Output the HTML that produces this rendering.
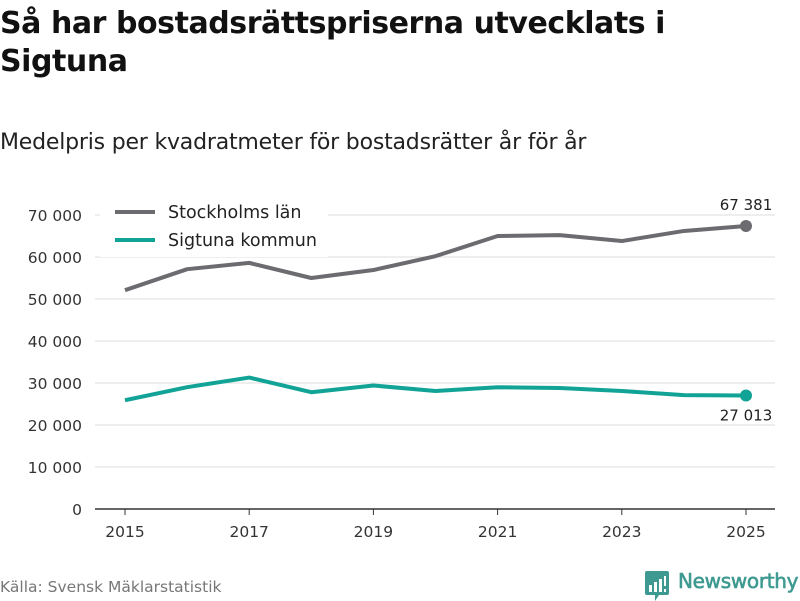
<!DOCTYPE html>
<html><head><meta charset="utf-8"><style>
body{margin:0;width:800px;height:600px;background:#fff;font-family:"DejaVu Sans","Liberation Sans",sans-serif;overflow:hidden;position:relative}
.t{position:absolute;white-space:nowrap}
</style></head><body>
<div class="t" style="left:0;top:5px;font-size:30px;font-weight:bold;line-height:38px;color:#111;letter-spacing:-0.45px">Så har bostadsrättspriserna utvecklats i<br>Sigtuna</div>
<div class="t" style="left:0;top:130px;font-size:22px;color:#222;letter-spacing:-0.2px">Medelpris per kvadratmeter för bostadsrätter år för år</div>
<svg id="c" width="800" height="600" style="position:absolute;left:0;top:0" font-family="DejaVu Sans, Liberation Sans, sans-serif"></svg>
<div class="t" style="left:0;top:578px;font-size:15.5px;color:#777">Källa: Svensk Mäklarstatistik</div>
<div style="position:absolute;left:645px;top:569px">
<svg width="24" height="30" style="position:absolute;left:0;top:2px"><path d="M0 2 Q0 0 2 0 H22 Q24 0 24 2 V22 Q24 24 22 24 H14 L10 30 L10 24 H2 Q0 24 0 22Z" fill="#3e9a91"/><rect x="4" y="14" width="3" height="7" fill="#fff"/><rect x="9" y="11" width="3" height="10" fill="#fff"/><rect x="14" y="8" width="3" height="13" fill="#fff"/><rect x="19" y="5" width="2" height="10" fill="#fff"/><rect x="19" y="18" width="2" height="3" fill="#fff"/></svg>
<div class="t" style="left:33px;top:0;font-size:20px;color:#3e9a91;-webkit-text-stroke:0.6px #3e9a91;letter-spacing:-0.3px">Newsworthy</div></div>
<script>
const years=[2015,2016,2017,2018,2019,2020,2021,2022,2023,2024,2025];
const sthlm=[52100,57100,58600,55000,56900,60200,65000,65200,63800,66200,67381];
const sigtuna=[25900,29000,31300,27800,29400,28100,29000,28800,28100,27100,27013];
const yTicks=[0,10000,20000,30000,40000,50000,60000,70000];
const xTicks=[2015,2017,2019,2021,2023,2025];
const svg=document.getElementById('c');const NS='http://www.w3.org/2000/svg';
const x=v=>125+(v-2015)*62.1;const y=v=>509-v*0.0042;
const fmt=v=>String(v).replace(/\B(?=(\d{3})+(?!\d))/g,' ');
function el(t,a,p){const e=document.createElementNS(NS,t);for(const k in a)e.setAttribute(k,a[k]);(p||svg).appendChild(e);return e;}
yTicks.forEach(v=>{
const g=el('line',{x1:95,x2:775,y1:y(v),y2:y(v),stroke:v?'#ddd':'#333','stroke-width':v?1:1.5});


const t=el('text',{x:82,y:y(v)+6,'text-anchor':'end','font-size':15.5,fill:'#333'});t.textContent=fmt(v);


});
xTicks.forEach(v=>{
const l=el('line',{x1:x(v),x2:x(v),y1:509,y2:515,stroke:'#333'});


const t=el('text',{x:x(v),y:537,'text-anchor':'middle','font-size':15.5,fill:'#333'});t.textContent=v;


});
function series(d,col,name,dy){
const p=el('polyline',{points:d.map((v,i)=>x(years[i])+','+y(v)).join(' '),fill:'none',stroke:col,'stroke-width':4,'stroke-linejoin':'round'});


const n=d.length-1;
const c=el('circle',{cx:x(years[n]),cy:y(d[n]),r:6,fill:col});


const t=el('text',{x:x(years[n]),y:y(d[n])+dy,'text-anchor':'middle','font-size':15,fill:'#222'});t.textContent=fmt(d[n]);


}
series(sthlm,'#6b6b70','stockholm',-16);
series(sigtuna,'#11a396','sigtuna',25);
el('rect',{x:100,y:197,width:228,height:60,fill:'#fff'});
[['Stockholms län','#6b6b70',212],['Sigtuna kommun','#11a396',240]].forEach(([n,c,yy])=>{
const l=el('line',{x1:115,x2:155,y1:yy,y2:yy,stroke:c,'stroke-width':4});


const t=el('text',{x:168,y:yy+6,'font-size':17.5,fill:'#222'});t.textContent=n;


});
</script>
</body></html>
